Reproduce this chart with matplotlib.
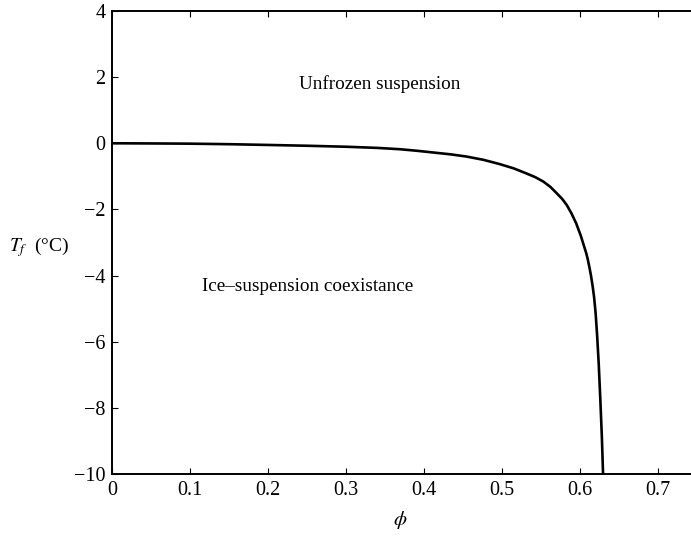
import matplotlib
matplotlib.use("Agg")
import matplotlib.pyplot as plt

phi = [0.0, 0.05, 0.10, 0.15, 0.198, 0.25, 0.30, 0.340, 0.369, 0.390, 0.412, 0.434, 0.454, 0.476, 0.497,
       0.515, 0.531, 0.543, 0.553, 0.562, 0.570, 0.577, 0.583, 0.589, 0.595, 0.601,
       0.608, 0.610, 0.612, 0.614, 0.616, 0.618, 0.620, 0.622, 0.624, 0.626, 0.628, 0.6295]
Tf = [0.0, -0.005, -0.012, -0.028, -0.05, -0.075, -0.105, -0.14, -0.18, -0.225, -0.28, -0.335, -0.40, -0.50, -0.63,
      -0.76, -0.91, -1.03, -1.16, -1.32, -1.51, -1.68, -1.87, -2.12, -2.42, -2.80,
      -3.33, -3.52, -3.75, -4.00, -4.30, -4.65, -5.15, -5.85, -6.70, -7.75, -8.90, -10.0]

xticks = [0, 0.1, 0.2, 0.3, 0.4, 0.5, 0.6, 0.7]
xticklabels = ["0", "0.1", "0.2", "0.3", "0.4", "0.5", "0.6", "0.7"]
yticks = [-10, -8, -6, -4, -2, 0, 2, 4]
yticklabels = ["\u221210", "\u22128", "\u22126", "\u22124", "\u22122", "0", "2", "4"]

plt.rcParams['font.family'] = ['Liberation Serif', 'DejaVu Serif']
plt.rcParams['mathtext.fontset'] = 'stix'

fig = plt.figure(figsize=(6.91, 5.36), dpi=100)
ax = fig.add_axes([0.1625, 0.1157, 0.8375, 0.8638])
ax.plot(phi, Tf, color='black', lw=1.9, solid_capstyle='butt', solid_joinstyle='round')

ax.set_xlim(0, 0.7423)
ax.set_ylim(-10, 4)
ax.set_xticks(xticks)
ax.set_xticklabels(xticklabels)
ax.set_yticks(yticks)
ax.set_yticklabels(yticklabels)

for s in ['left', 'bottom', 'top']:
    ax.spines[s].set_linewidth(1.4)
ax.spines['right'].set_visible(False)
ax.tick_params(direction='in', length=4, width=0.8, labelsize=14.5, top=True, right=False, pad=5)

ax.text(0.343, 1.79, "Unfrozen suspension", fontsize=13.8, ha='center', va='center')
ax.text(0.25, -4.34, "Ice\u2013suspension coexistance", fontsize=13.8, ha='center', va='center')

ax.set_ylabel(r"$T_f$  (°C)", fontsize=14, rotation=0, ha='center', va='center')
ax.yaxis.set_label_coords(-0.127, 0.49)
ax.set_xlabel(r"$\phi$", fontsize=15, va='center')
ax.xaxis.set_label_coords(0.497, -0.099)

fig.savefig("out.png", dpi=100)
